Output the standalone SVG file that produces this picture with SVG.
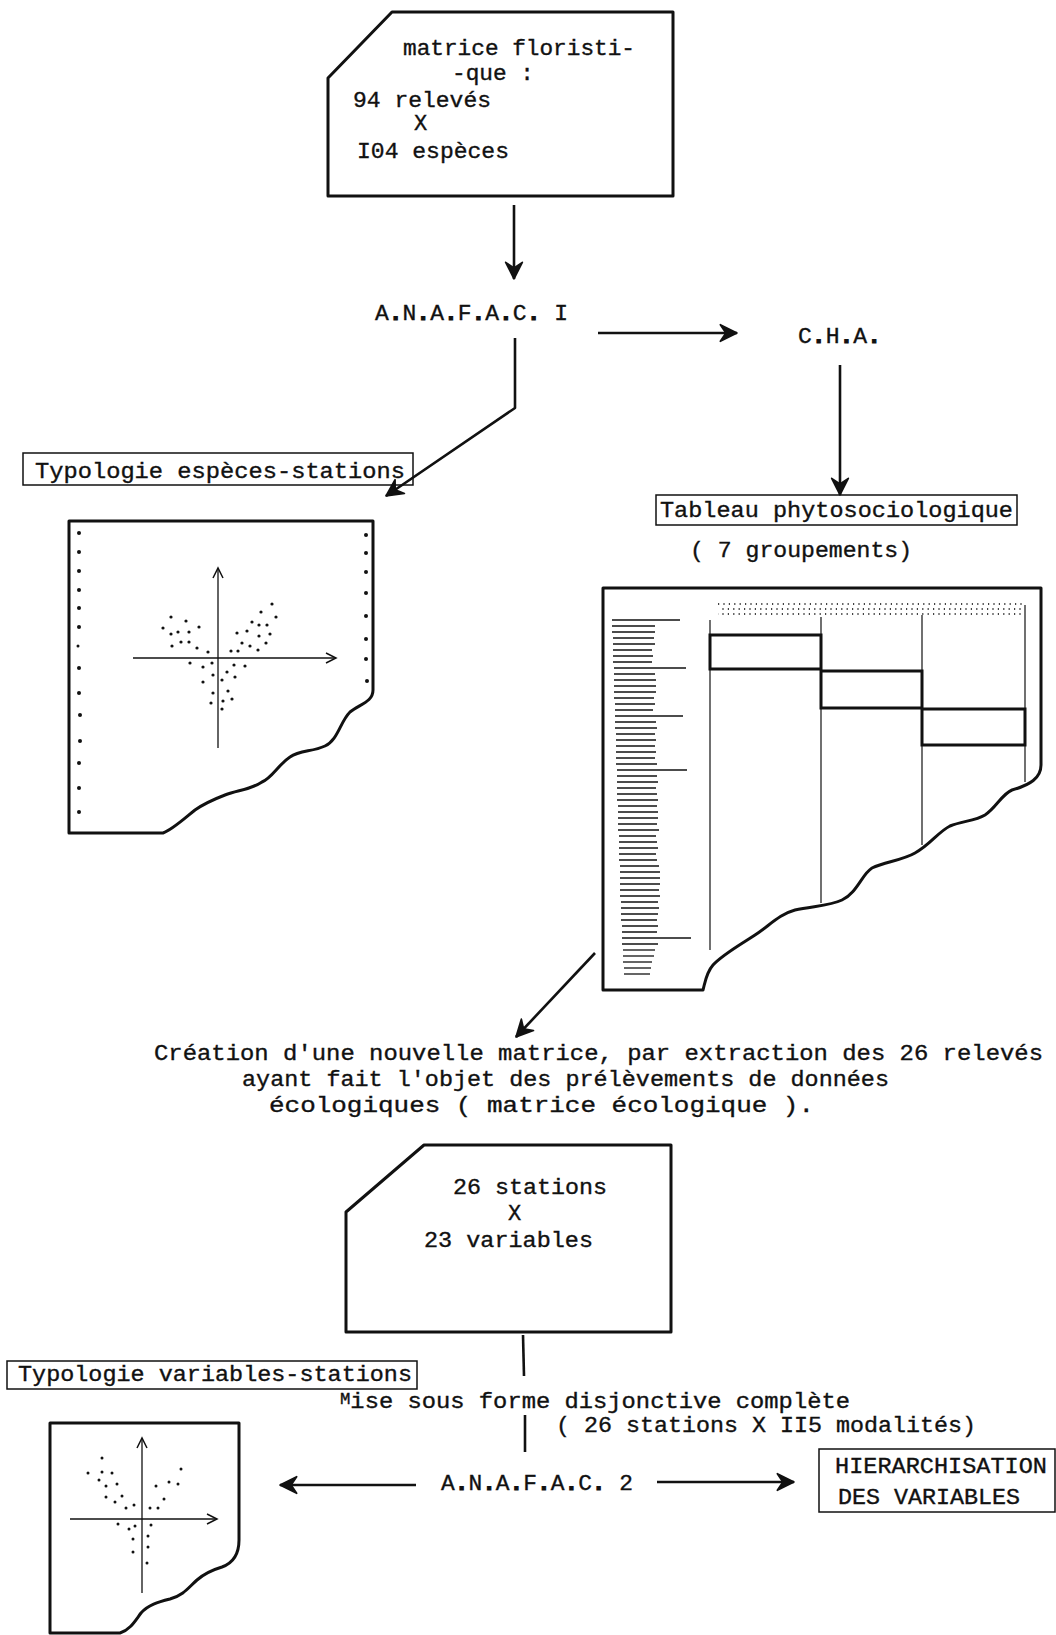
<svg xmlns="http://www.w3.org/2000/svg" width="1056" height="1635" viewBox="0 0 1056 1635">
<style>
  text { font-family: "Liberation Mono", "DejaVu Sans Mono", monospace; font-size: 22px; fill: #111; stroke: #111; stroke-width: 0.35; }
  .b { font-weight: bold; stroke-width: 1.2; }
  .box { fill: none; stroke: #111; stroke-width: 3; stroke-linejoin: round; }
  .lbl { fill: none; stroke: #111; stroke-width: 1.5; }
  .con { fill: none; stroke: #111; stroke-width: 2.6; stroke-linejoin: round; }
  .ax { fill: none; stroke: #111; stroke-width: 1.3; }
  .thk { fill: none; stroke: #111; stroke-width: 3; }
  .thin { stroke: #111; stroke-width: 1.2; }
  .row { stroke: #111; stroke-width: 1.3; }
  .dot { fill: #111; }
  .hdr { stroke: #444; stroke-width: 2; stroke-dasharray: 1.2 4.2; }
</style>
<defs>
  <marker id="ah" markerUnits="userSpaceOnUse" markerWidth="20" markerHeight="20" viewBox="-16 -9 18 18" refX="0" refY="0" orient="auto">
    <path d="M-15,-7.5 L0,0 L-15,7.5 L-10,0 Z" fill="#111" stroke="#111" stroke-width="1.5" stroke-linejoin="round"/>
  </marker>
  <marker id="av" markerUnits="userSpaceOnUse" markerWidth="14" markerHeight="14" viewBox="-12 -7 14 14" refX="0" refY="0" orient="auto">
    <path d="M-10,-5 L0,0 L-10,5" fill="none" stroke="#111" stroke-width="1.5"/>
  </marker>
</defs>

<g id="node-matrice-floristique">
  <path class="box" d="M392,12 L673,12 L673,196 L328,196 L328,78 Z"/>
  <text x="403" y="55" textLength="232" lengthAdjust="spacingAndGlyphs">matrice floristi-</text>
  <text x="452" y="80" textLength="82" lengthAdjust="spacingAndGlyphs">-que :</text>
  <text x="353" y="107" textLength="138" lengthAdjust="spacingAndGlyphs">94 relevés</text>
  <text x="414" y="130">X</text>
  <text x="357" y="158" textLength="152" lengthAdjust="spacingAndGlyphs">I04 espèces</text>
</g>

<g id="node-anafac1">
  <text x="375" y="320" textLength="193" lengthAdjust="spacingAndGlyphs">A<tspan class="b">.</tspan>N<tspan class="b">.</tspan>A<tspan class="b">.</tspan>F<tspan class="b">.</tspan>A<tspan class="b">.</tspan>C<tspan class="b">.</tspan> I</text>
</g>

<g id="node-cha">
  <text x="798" y="343" textLength="83" lengthAdjust="spacingAndGlyphs">C<tspan class="b">.</tspan>H<tspan class="b">.</tspan>A<tspan class="b">.</tspan></text>
</g>

<g id="node-typologie-especes">
  <rect class="lbl" x="23" y="453" width="390" height="32"/>
  <text x="35" y="478" textLength="370" lengthAdjust="spacingAndGlyphs">Typologie espèces-stations</text>
</g>

<g id="node-graph-especes">
  <path class="box" d="M69,521 L373,521 L373,690 C373,702 360,704 350,712 C340,722 338,740 325,746 C312,752 300,750 290,757 C278,765 272,778 262,782 C250,790 238,790 225,795 C212,800 205,803 195,810 C185,818 172,830 163,833 L69,833 Z"/>
  <g class="dot">
    <circle cx="79" cy="533" r="2"/><circle cx="79" cy="552" r="2"/><circle cx="79" cy="571" r="2"/><circle cx="79" cy="590" r="2"/><circle cx="79" cy="608" r="2"/><circle cx="79" cy="627" r="2"/><circle cx="78" cy="646" r="1.5"/><circle cx="79" cy="668" r="2"/><circle cx="79" cy="693" r="2"/><circle cx="80" cy="715" r="2"/><circle cx="80" cy="741" r="2"/><circle cx="79" cy="763" r="2"/><circle cx="79" cy="788" r="2"/><circle cx="79" cy="812" r="2"/>
    <circle cx="366" cy="535" r="2"/><circle cx="366" cy="553" r="2"/><circle cx="366" cy="572" r="2"/><circle cx="366" cy="593" r="2"/><circle cx="366" cy="616" r="2"/><circle cx="366" cy="639" r="2"/><circle cx="366" cy="659" r="2"/><circle cx="367" cy="681" r="2"/>
  </g>
  <line class="ax" x1="218" y1="748" x2="218" y2="568" marker-end="url(#av)"/>
  <line class="ax" x1="133" y1="658" x2="336" y2="658" marker-end="url(#av)"/>
  <g class="dot">
    <circle cx="171" cy="617" r="1.6"/><circle cx="186" cy="621" r="1.6"/><circle cx="163" cy="628" r="1.6"/><circle cx="199" cy="627" r="1.6"/><circle cx="171" cy="634" r="1.6"/><circle cx="178" cy="632" r="1.6"/><circle cx="189" cy="632" r="1.6"/><circle cx="181" cy="642" r="1.6"/><circle cx="189" cy="642" r="1.6"/><circle cx="172" cy="646" r="1.6"/><circle cx="197" cy="648" r="1.6"/><circle cx="208" cy="652" r="1.6"/>
    <circle cx="272" cy="604" r="1.6"/><circle cx="261" cy="612" r="1.6"/><circle cx="276" cy="617" r="1.6"/><circle cx="252" cy="622" r="1.6"/><circle cx="259" cy="625" r="1.6"/><circle cx="267" cy="625" r="1.6"/><circle cx="237" cy="633" r="1.6"/><circle cx="247" cy="631" r="1.6"/><circle cx="259" cy="636" r="1.6"/><circle cx="270" cy="634" r="1.6"/><circle cx="242" cy="643" r="1.6"/><circle cx="250" cy="646" r="1.6"/><circle cx="266" cy="643" r="1.6"/><circle cx="258" cy="650" r="1.6"/><circle cx="231" cy="651" r="1.6"/><circle cx="238" cy="651" r="1.6"/>
    <circle cx="190" cy="663" r="1.6"/><circle cx="203" cy="667" r="1.6"/><circle cx="212" cy="663" r="1.6"/><circle cx="234" cy="665" r="1.6"/><circle cx="245" cy="666" r="1.6"/><circle cx="227" cy="672" r="1.6"/><circle cx="213" cy="675" r="1.6"/><circle cx="235" cy="677" r="1.6"/><circle cx="222" cy="680" r="1.6"/><circle cx="203" cy="682" r="1.6"/><circle cx="228" cy="691" r="1.6"/><circle cx="213" cy="693" r="1.6"/><circle cx="232" cy="699" r="1.6"/><circle cx="223" cy="701" r="1.6"/><circle cx="211" cy="703" r="1.6"/><circle cx="222" cy="709" r="1.6"/>
  </g>
</g>

<g id="node-tableau-label">
  <rect class="lbl" x="656" y="495" width="361" height="30"/>
  <text x="660" y="517" textLength="353" lengthAdjust="spacingAndGlyphs">Tableau phytosociologique</text>
  <text x="690" y="557" textLength="222" lengthAdjust="spacingAndGlyphs">( 7 groupements)</text>
</g>

<g id="node-tableau">
  <path class="box" d="M603,588 L1041,588 L1041,765 C1041,778 1030,785 1012,790 C1002,794 996,808 985,815 C975,821 962,821 950,826 C938,832 930,845 915,853 C903,860 885,862 872,868 C862,874 857,893 842,900 C830,906 812,906 795,910 C780,914 770,925 755,935 C738,946 722,955 713,965 C706,973 705,983 703,990 L603,990 Z"/>
  <line class="hdr" x1="718" y1="604" x2="1023" y2="604"/>
  <line class="hdr" x1="719" y1="609" x2="1023" y2="609" stroke-dashoffset="2"/>
  <line class="hdr" x1="718" y1="614" x2="1023" y2="614" stroke-dashoffset="1"/>
  <g class="thin">
    <line x1="710" y1="620" x2="710" y2="950"/>
    <line x1="821" y1="617" x2="821" y2="903"/>
    <line x1="922" y1="615" x2="922" y2="845"/>
    <line x1="1025" y1="605" x2="1025" y2="782"/>
  </g>
  <path class="thk" d="M710,635 L821,635 L821,669 L710,669 Z"/>
  <path class="thk" d="M821,671 L922,671 L922,708 L821,708 Z"/>
  <path class="thk" d="M922,709 L1025,709 L1025,745 L922,745 Z"/>
  <g class="row">
    <line x1="612" y1="620" x2="680" y2="620"/><line x1="612" y1="626" x2="655" y2="626"/><line x1="612" y1="632" x2="655" y2="632"/><line x1="613" y1="638" x2="654" y2="638"/><line x1="613" y1="644" x2="655" y2="644"/><line x1="613" y1="650" x2="652" y2="650"/><line x1="613" y1="656" x2="653" y2="656"/><line x1="613" y1="662" x2="652" y2="662"/><line x1="614" y1="668" x2="686" y2="668"/><line x1="614" y1="674" x2="655" y2="674"/>
    <line x1="614" y1="680" x2="656" y2="680"/><line x1="614" y1="686" x2="656" y2="686"/><line x1="614" y1="692" x2="656" y2="692"/><line x1="614" y1="698" x2="654" y2="698"/><line x1="615" y1="704" x2="655" y2="704"/><line x1="615" y1="710" x2="653" y2="710"/><line x1="615" y1="716" x2="683" y2="716"/><line x1="615" y1="722" x2="656" y2="722"/><line x1="615" y1="728" x2="657" y2="728"/><line x1="616" y1="734" x2="655" y2="734"/>
    <line x1="616" y1="740" x2="656" y2="740"/><line x1="616" y1="746" x2="655" y2="746"/><line x1="616" y1="752" x2="656" y2="752"/><line x1="616" y1="758" x2="655" y2="758"/><line x1="616" y1="764" x2="657" y2="764"/><line x1="617" y1="770" x2="687" y2="770"/><line x1="617" y1="776" x2="657" y2="776"/><line x1="617" y1="782" x2="658" y2="782"/><line x1="617" y1="788" x2="656" y2="788"/><line x1="617" y1="794" x2="657" y2="794"/>
    <line x1="617" y1="800" x2="658" y2="800"/><line x1="618" y1="806" x2="657" y2="806"/><line x1="618" y1="812" x2="658" y2="812"/><line x1="618" y1="818" x2="658" y2="818"/><line x1="618" y1="824" x2="657" y2="824"/><line x1="618" y1="830" x2="659" y2="830"/><line x1="619" y1="836" x2="656" y2="836"/><line x1="619" y1="842" x2="657" y2="842"/><line x1="619" y1="848" x2="658" y2="848"/><line x1="619" y1="854" x2="656" y2="854"/>
    <line x1="619" y1="860" x2="657" y2="860"/><line x1="620" y1="866" x2="659" y2="866"/><line x1="620" y1="872" x2="660" y2="872"/><line x1="620" y1="878" x2="660" y2="878"/><line x1="620" y1="884" x2="660" y2="884"/><line x1="620" y1="890" x2="659" y2="890"/><line x1="620" y1="896" x2="660" y2="896"/><line x1="621" y1="902" x2="658" y2="902"/><line x1="621" y1="908" x2="659" y2="908"/><line x1="621" y1="914" x2="658" y2="914"/>
    <line x1="621" y1="920" x2="657" y2="920"/><line x1="622" y1="926" x2="658" y2="926"/><line x1="622" y1="932" x2="657" y2="932"/><line x1="622" y1="938" x2="691" y2="938"/><line x1="622" y1="944" x2="658" y2="944"/><line x1="623" y1="950" x2="655" y2="950"/><line x1="623" y1="956" x2="654" y2="956"/><line x1="623" y1="962" x2="652" y2="962"/><line x1="624" y1="968" x2="651" y2="968"/><line x1="624" y1="974" x2="650" y2="974"/>
  </g>
</g>

<g id="node-creation">
  <text x="154" y="1060" textLength="889" lengthAdjust="spacingAndGlyphs">Création d'une nouvelle matrice, par extraction des 26  relevés</text>
  <text x="242" y="1086" textLength="647" lengthAdjust="spacingAndGlyphs">ayant fait l'objet des prélèvements de données</text>
  <text x="269" y="1112" textLength="545" lengthAdjust="spacingAndGlyphs">écologiques ( matrice écologique ).</text>
</g>

<g id="node-matrice-ecologique">
  <path class="box" d="M424,1145 L671,1145 L671,1332 L346,1332 L346,1212 Z"/>
  <text x="453" y="1194" textLength="154" lengthAdjust="spacingAndGlyphs">26 stations</text>
  <text x="508" y="1220">X</text>
  <text x="424" y="1247" textLength="169" lengthAdjust="spacingAndGlyphs">23 variables</text>
</g>

<g id="node-typologie-variables">
  <rect class="lbl" x="7" y="1361" width="410" height="28"/>
  <text x="18" y="1381" textLength="394" lengthAdjust="spacingAndGlyphs">Typologie variables-stations</text>
</g>

<g id="node-disjonctive">
  <text x="340" y="1408" textLength="510" lengthAdjust="spacingAndGlyphs"><tspan dy="-4" font-size="16">M</tspan><tspan dy="4">ise sous forme disjonctive complète</tspan></text>
  <text x="556" y="1432" textLength="420" lengthAdjust="spacingAndGlyphs">( 26 stations X II5 modalités)</text>
</g>

<g id="node-anafac2">
  <text x="441" y="1490" textLength="192" lengthAdjust="spacingAndGlyphs">A<tspan class="b">.</tspan>N<tspan class="b">.</tspan>A<tspan class="b">.</tspan>F<tspan class="b">.</tspan>A<tspan class="b">.</tspan>C<tspan class="b">.</tspan> 2</text>
</g>

<g id="node-hierarchisation">
  <rect class="lbl" x="819" y="1449" width="236" height="63"/>
  <text x="835" y="1473" textLength="212" lengthAdjust="spacingAndGlyphs">HIERARCHISATION</text>
  <text x="838" y="1504" textLength="182" lengthAdjust="spacingAndGlyphs">DES VARIABLES</text>
</g>

<g id="node-graph-variables">
  <path class="box" d="M50,1423 L239,1423 L239,1540 C239,1555 233,1563 222,1567 C212,1570 205,1573 197,1580 C189,1587 184,1595 170,1599 C158,1602 148,1605 141,1613 C135,1621 130,1630 120,1633 L50,1633 Z"/>
  <line class="ax" x1="142" y1="1593" x2="142" y2="1438" marker-end="url(#av)"/>
  <line class="ax" x1="70" y1="1519" x2="217" y2="1519" marker-end="url(#av)"/>
  <g class="dot">
    <circle cx="102" cy="1458" r="1.5"/><circle cx="88" cy="1473" r="1.5"/><circle cx="102" cy="1472" r="1.5"/><circle cx="112" cy="1473" r="1.5"/><circle cx="99" cy="1480" r="1.5"/><circle cx="106" cy="1486" r="1.5"/><circle cx="117" cy="1484" r="1.5"/><circle cx="106" cy="1497" r="1.5"/><circle cx="122" cy="1496" r="1.5"/><circle cx="115" cy="1502" r="1.5"/><circle cx="126" cy="1508" r="1.5"/><circle cx="134" cy="1505" r="1.5"/>
    <circle cx="181" cy="1469" r="1.5"/><circle cx="169" cy="1482" r="1.5"/><circle cx="178" cy="1484" r="1.5"/><circle cx="156" cy="1486" r="1.5"/><circle cx="164" cy="1499" r="1.5"/><circle cx="150" cy="1508" r="1.5"/><circle cx="158" cy="1508" r="1.5"/>
    <circle cx="118" cy="1524" r="1.5"/><circle cx="129" cy="1529" r="1.5"/><circle cx="135" cy="1526" r="1.5"/><circle cx="151" cy="1525" r="1.5"/><circle cx="148" cy="1536" r="1.5"/><circle cx="133" cy="1539" r="1.5"/><circle cx="148" cy="1547" r="1.5"/><circle cx="133" cy="1552" r="1.5"/><circle cx="147" cy="1563" r="1.5"/>
  </g>
</g>

<g id="connectors">
  <line class="con" x1="514" y1="205" x2="514" y2="279" marker-end="url(#ah)"/>
  <polyline class="con" points="515,338 515,408 386,496" marker-end="url(#ah)"/>
  <line class="con" x1="598" y1="333" x2="737" y2="333" marker-end="url(#ah)"/>
  <line class="con" x1="840" y1="365" x2="840" y2="495" marker-end="url(#ah)"/>
  <line class="con" x1="595" y1="953" x2="516" y2="1037" marker-end="url(#ah)"/>
  <line class="con" x1="523" y1="1335" x2="524" y2="1376"/>
  <line class="con" x1="525" y1="1415" x2="525" y2="1452"/>
  <line class="con" x1="416" y1="1485" x2="280" y2="1485" marker-end="url(#ah)"/>
  <line class="con" x1="657" y1="1482" x2="794" y2="1482" marker-end="url(#ah)"/>
</g>
</svg>
